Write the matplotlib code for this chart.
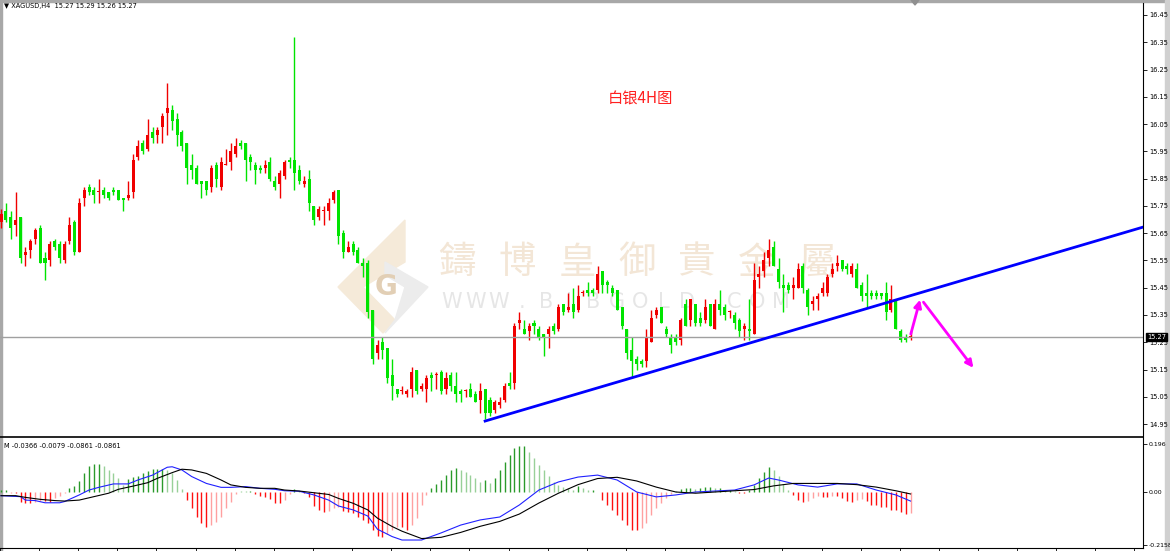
import matplotlib.pyplot as plt
from matplotlib.patches import Polygon, Rectangle
import numpy as np

# ---------------- datos (velas H4 XAGUSD) ----------------
opens = [15.69, 15.73, 15.71, 15.68, 15.71, 15.57, 15.59, 15.63, 15.67, 15.56,
         15.55, 15.62, 15.61, 15.55, 15.62, 15.69, 15.58, 15.78, 15.82, 15.81,
         15.80, 15.81, 15.80, 15.81, 15.81, 15.78, 15.78, 15.80, 15.93, 15.98,
         15.96, 16.02, 16.01, 16.04, 16.09, 16.10, 16.07, 16.02, 15.98, 15.90,
         15.89, 15.84, 15.84, 15.82, 15.90, 15.82, 15.90, 15.91, 15.94, 15.98,
         15.98, 15.93, 15.90, 15.89, 15.89, 15.91, 15.84, 15.83, 15.86, 15.92,
         15.92, 15.88, 15.83, 15.85, 15.75, 15.71, 15.73, 15.73, 15.77, 15.81,
         15.65, 15.58, 15.61, 15.59, 15.54, 15.54, 15.37, 15.21, 15.25, 15.23,
         15.13, 15.08, 15.07, 15.06, 15.08, 15.15, 15.08, 15.08, 15.13, 15.13,
         15.14, 15.08, 15.13, 15.09, 15.07, 15.07, 15.08, 15.06, 15.04, 15.08,
         15.04, 15.00, 15.02, 15.04, 15.10, 15.10, 15.32, 15.30, 15.29, 15.32,
         15.30, 15.28, 15.28, 15.31, 15.30, 15.39, 15.37, 15.39, 15.37, 15.43,
         15.44, 15.44, 15.44, 15.51, 15.47, 15.45, 15.44, 15.38, 15.30, 15.22,
         15.19, 15.18, 15.18, 15.25, 15.35, 15.38, 15.30, 15.27, 15.27, 15.26,
         15.39, 15.33, 15.39, 15.34, 15.33, 15.39, 15.30, 15.39, 15.38, 15.36,
         15.35, 15.33, 15.30, 15.30, 15.28, 15.49, 15.51, 15.56, 15.60, 15.52,
         15.46, 15.46, 15.45, 15.45, 15.53, 15.44, 15.39, 15.41, 15.43, 15.43,
         15.50, 15.53, 15.55, 15.53, 15.50, 15.52, 15.46, 15.43, 15.43, 15.43,
         15.43, 15.43, 15.37, 15.40, 15.29, 15.27, 15.27]
highs = [15.74, 15.76, 15.73, 15.80, 15.71, 15.60, 15.63, 15.67, 15.68, 15.58,
         15.62, 15.63, 15.62, 15.62, 15.71, 15.70, 15.78, 15.82, 15.83, 15.82,
         15.85, 15.82, 15.80, 15.82, 15.81, 15.78, 15.84, 15.94, 15.99, 15.99,
         16.07, 16.04, 16.04, 16.09, 16.20, 16.12, 16.09, 16.03, 15.98, 15.94,
         15.90, 15.84, 15.84, 15.90, 15.91, 15.93, 15.96, 15.98, 16.00, 15.99,
         15.98, 15.94, 15.91, 15.90, 15.92, 15.93, 15.86, 15.88, 15.92, 15.93,
         16.37, 15.90, 15.86, 15.88, 15.75, 15.75, 15.75, 15.78, 15.81, 15.81,
         15.66, 15.62, 15.62, 15.60, 15.56, 15.55, 15.37, 15.26, 15.27, 15.23,
         15.19, 15.08, 15.09, 15.08, 15.16, 15.15, 15.10, 15.13, 15.14, 15.14,
         15.15, 15.14, 15.14, 15.14, 15.08, 15.08, 15.10, 15.07, 15.10, 15.08,
         15.05, 15.04, 15.05, 15.10, 15.14, 15.32, 15.36, 15.33, 15.32, 15.33,
         15.31, 15.28, 15.31, 15.32, 15.39, 15.39, 15.43, 15.45, 15.46, 15.44,
         15.47, 15.45, 15.53, 15.51, 15.48, 15.46, 15.44, 15.38, 15.30, 15.27,
         15.20, 15.19, 15.30, 15.37, 15.38, 15.38, 15.31, 15.28, 15.28, 15.34,
         15.41, 15.41, 15.39, 15.36, 15.41, 15.39, 15.41, 15.44, 15.39, 15.37,
         15.36, 15.34, 15.32, 15.41, 15.54, 15.53, 15.58, 15.63, 15.62, 15.56,
         15.50, 15.47, 15.49, 15.54, 15.54, 15.45, 15.42, 15.43, 15.47, 15.50,
         15.54, 15.57, 15.55, 15.54, 15.54, 15.54, 15.47, 15.50, 15.44, 15.44,
         15.43, 15.47, 15.46, 15.41, 15.30, 15.28, 15.29]
lows = [15.67, 15.69, 15.63, 15.64, 15.54, 15.53, 15.56, 15.61, 15.54, 15.48,
        15.53, 15.59, 15.54, 15.54, 15.61, 15.57, 15.58, 15.75, 15.79, 15.76,
        15.76, 15.78, 15.77, 15.79, 15.77, 15.73, 15.77, 15.78, 15.92, 15.94,
        15.95, 15.98, 15.98, 15.98, 16.01, 16.03, 15.97, 15.95, 15.83, 15.85,
        15.83, 15.78, 15.79, 15.80, 15.82, 15.81, 15.90, 15.88, 15.93, 15.96,
        15.84, 15.88, 15.83, 15.87, 15.87, 15.84, 15.81, 15.78, 15.85, 15.89,
        15.81, 15.83, 15.82, 15.73, 15.68, 15.70, 15.68, 15.70, 15.76, 15.61,
        15.56, 15.58, 15.57, 15.54, 15.49, 15.34, 15.17, 15.19, 15.19, 15.10,
        15.04, 15.05, 15.06, 15.05, 15.05, 15.06, 15.07, 15.03, 15.07, 15.08,
        15.06, 15.06, 15.07, 15.03, 15.03, 15.05, 15.05, 15.03, 14.99, 14.97,
        14.98, 14.99, 15.01, 15.03, 15.08, 15.08, 15.30, 15.28, 15.26, 15.28,
        15.26, 15.20, 15.23, 15.28, 15.29, 15.35, 15.36, 15.34, 15.36, 15.42,
        15.42, 15.42, 15.43, 15.43, 15.43, 15.42, 15.37, 15.30, 15.19, 15.12,
        15.15, 15.16, 15.16, 15.25, 15.34, 15.32, 15.27, 15.21, 15.24, 15.24,
        15.31, 15.31, 15.31, 15.31, 15.32, 15.31, 15.30, 15.35, 15.33, 15.34,
        15.30, 15.27, 15.26, 15.26, 15.28, 15.45, 15.49, 15.53, 15.53, 15.45,
        15.36, 15.43, 15.41, 15.45, 15.43, 15.35, 15.37, 15.37, 15.42, 15.42,
        15.49, 15.51, 15.51, 15.50, 15.49, 15.45, 15.40, 15.38, 15.41, 15.41,
        15.41, 15.33, 15.36, 15.30, 15.25, 15.25, 15.26]
closes = [15.72, 15.70, 15.67, 15.70, 15.56, 15.58, 15.62, 15.66, 15.54, 15.54,
          15.61, 15.60, 15.56, 15.61, 15.68, 15.58, 15.76, 15.81, 15.80, 15.79,
          15.80, 15.79, 15.78, 15.80, 15.77, 15.77, 15.79, 15.92, 15.97, 15.95,
          16.01, 16.00, 16.03, 16.08, 16.11, 16.06, 16.01, 15.97, 15.89, 15.88,
          15.83, 15.83, 15.81, 15.89, 15.85, 15.91, 15.90, 15.95, 15.97, 15.97,
          15.92, 15.91, 15.88, 15.88, 15.90, 15.85, 15.82, 15.87, 15.91, 15.91,
          15.87, 15.84, 15.84, 15.76, 15.70, 15.74, 15.73, 15.76, 15.80, 15.64,
          15.58, 15.60, 15.58, 15.54, 15.53, 15.36, 15.19, 15.24, 15.22, 15.12,
          15.09, 15.06, 15.07, 15.07, 15.14, 15.07, 15.09, 15.12, 15.12, 15.13,
          15.07, 15.12, 15.09, 15.06, 15.06, 15.07, 15.05, 15.03, 15.07, 14.99,
          14.99, 15.03, 15.03, 15.09, 15.09, 15.31, 15.33, 15.28, 15.31, 15.31,
          15.27, 15.27, 15.30, 15.29, 15.38, 15.36, 15.38, 15.36, 15.42, 15.43,
          15.43, 15.43, 15.50, 15.46, 15.46, 15.43, 15.37, 15.31, 15.21, 15.18,
          15.17, 15.17, 15.27, 15.34, 15.37, 15.32, 15.28, 15.24, 15.25, 15.33,
          15.31, 15.41, 15.32, 15.32, 15.38, 15.31, 15.39, 15.37, 15.35, 15.36,
          15.32, 15.29, 15.31, 15.29, 15.48, 15.50, 15.55, 15.59, 15.53, 15.47,
          15.45, 15.44, 15.46, 15.52, 15.45, 15.38, 15.40, 15.42, 15.45, 15.49,
          15.52, 15.54, 15.52, 15.52, 15.53, 15.45, 15.42, 15.42, 15.42, 15.42,
          15.42, 15.36, 15.41, 15.30, 15.26, 15.26, 15.27]

macd_hist = [0.008, 0.008, -0.003, -0.005, -0.039, -0.044, -0.044, -0.039, -0.035, -0.035,
             -0.039, -0.026, -0.016, -0.005, 0.015, 0.024, 0.046, 0.076, 0.106, 0.113,
             0.114, 0.106, 0.090, 0.079, 0.056, 0.029, 0.052, 0.063, 0.065, 0.076,
             0.087, 0.093, 0.093, 0.093, 0.090, 0.076, 0.049, 0.011, -0.033, -0.067,
             -0.103, -0.128, -0.141, -0.135, -0.121, -0.101, -0.067, -0.039, -0.008, 0.005,
             0.004, 0.004, -0.010, -0.016, -0.019, -0.029, -0.044, -0.044, -0.033, -0.008,
             0.011, 0.005, -0.005, -0.019, -0.057, -0.073, -0.080, -0.076, -0.067, -0.063,
             -0.076, -0.080, -0.087, -0.101, -0.114, -0.128, -0.155, -0.180, -0.182, -0.171,
             -0.155, -0.141, -0.143, -0.155, -0.135, -0.106, -0.053, -0.012, 0.016, 0.033,
             0.049, 0.069, 0.090, 0.098, 0.090, 0.082, 0.069, 0.057, 0.041, 0.049,
             0.037, 0.057, 0.090, 0.122, 0.151, 0.180, 0.188, 0.188, 0.163, 0.139,
             0.110, 0.090, 0.065, 0.041, 0.029, 0.020, 0.016, 0.008, 0.024, 0.016,
             0.008, 0.008, 0.000, -0.033, -0.053, -0.073, -0.094, -0.114, -0.135, -0.155,
             -0.155, -0.147, -0.127, -0.094, -0.065, -0.045, -0.024, -0.008, 0.004, 0.012,
             0.016, 0.016, 0.012, 0.016, 0.020, 0.020, 0.016, 0.016, 0.008, 0.008,
             0.004, -0.004, -0.004, 0.008, 0.029, 0.057, 0.082, 0.102, 0.090, 0.065,
             0.033, 0.008, -0.012, -0.033, -0.041, -0.037, -0.024, -0.016, -0.020, -0.020,
             -0.016, -0.016, -0.024, -0.037, -0.041, -0.033, -0.029, -0.037, -0.053, -0.053,
             -0.061, -0.061, -0.073, -0.073, -0.082, -0.090, -0.086]

blue_at = [1, 5, 6, 8, 10, 13, 14, 17, 19, 21, 24, 27, 29, 32, 35, 36, 38, 40, 43, 46,
           48, 51, 54, 57, 59, 62, 65, 68, 70, 73, 76, 78, 81, 83, 87, 91, 95, 99, 103, 107,
           111, 115, 119, 123, 127, 131, 135, 139, 143, 151, 155, 158, 160, 164, 168, 172,
           176, 180, 184, 187]
blue_val = [-0.015, -0.019, -0.033, -0.035, -0.044, -0.044, -0.039, -0.012, 0.008, 0.019,
            0.033, 0.033, 0.049, 0.069, 0.101, 0.103, 0.090, 0.063, 0.035, 0.019,
            0.019, 0.022, 0.015, 0.011, 0.005, 0.003, -0.012, -0.033, -0.057, -0.073,
            -0.098, -0.152, -0.182, -0.196, -0.196, -0.167, -0.135, -0.114, -0.102, -0.053,
            0.008, 0.041, 0.061, 0.069, 0.049, 0.000, -0.020, -0.012, 0.000, 0.008,
            0.029, 0.057, 0.049, 0.029, 0.020, 0.033, 0.033, 0.008, -0.012, -0.037]
black_at = [1, 4, 6, 9, 12, 14, 17, 20, 23, 25, 28, 31, 33, 36, 38, 40, 43, 46, 48, 51,
            54, 57, 59, 62, 65, 68, 70, 73, 76, 78, 81, 83, 87, 91, 95, 99, 103, 107, 111,
            115, 119, 123, 127, 131, 135, 139, 143, 151, 155, 159, 163, 168, 172, 176, 180,
            184, 187]
black_val = [-0.015, -0.015, -0.022, -0.030, -0.035, -0.037, -0.033, -0.019, -0.005, 0.011,
             0.024, 0.038, 0.056, 0.079, 0.093, 0.090, 0.076, 0.049, 0.029, 0.019,
             0.015, 0.015, 0.008, 0.004, -0.003, -0.010, -0.026, -0.046, -0.073, -0.107,
             -0.141, -0.160, -0.190, -0.185, -0.165, -0.140, -0.120, -0.090, -0.045,
             -0.005, 0.030, 0.055, 0.060, 0.045, 0.020, 0.000, -0.005, 0.005, 0.010,
             0.025, 0.035, 0.035, 0.035, 0.030, 0.020, 0.005, -0.008]

price_ticks = [14.95, 15.05, 15.15, 15.25, 15.35, 15.45, 15.55, 15.65, 15.75, 15.85,
               15.95, 16.05, 16.15, 16.25, 16.35, 16.45]
last_price = 15.27
trend_from = (100, 14.961)      # vela, precio
trend_slope = 0.005286          # por vela
arrow_up = [(186.9, 15.27), (189.1, 15.416)]
arrow_down = [(189.3, 15.405), (200.2, 15.148)]

# ---------------- figura ----------------
W, H = 1170, 551
UP, DOWN = '#f00000', '#00e400'

fig = plt.figure(figsize=(W / 100, H / 100), dpi=100)
bg = fig.add_axes([0, 0, 1, 1], zorder=0)
bg.set_xlim(0, W)
bg.set_ylim(H, 0)
bg.axis('off')

# marco de la ventana
bg.add_patch(Rectangle((0, 0), W, 2, color='#a8a8a8'))
bg.add_patch(Rectangle((0, 0), 2, H, color='#a8a8a8'))
bg.add_patch(Rectangle((1165, 0), 5, H, color='#d0d0d0'))
bg.add_patch(Polygon([(911, 0), (919, 0), (915, 5)], color='#909090'))

# marca de agua
wm_chars = '鑄博皇御貴金屬'
for k, ch in enumerate(wm_chars):
    bg.text(457 + k * 60, 263, ch, fontsize=27, color='#f3e6d6', ha='center', va='center',
            family=['Noto Sans CJK TC', 'DejaVu Sans'])
for k, ch in enumerate('WWW.BIBGOLD.COM'):
    bg.text(452 + k * 23.5, 302, ch, fontsize=15, color='#e6e6e6', ha='center', va='center',
            family='DejaVu Sans')
bg.add_patch(Polygon([(405, 220), (405, 262), (363, 287), (395, 320), (383, 333), (338, 287)],
                     color='#f5ead9'))
bg.add_patch(Polygon([(385, 262), (428, 287), (385, 333), (395, 320), (405, 287), (385, 275)],
                     color='#ececec'))
bg.text(386, 287, 'G', fontsize=20, fontweight='bold', color='#e2cfb5', ha='center', va='center')

bg.text(4, 6, '▼ XAGUSD,H4  15.27 15.29 15.26 15.27', fontsize=4.8, va='center')
bg.text(4, 446, 'M -0.0366 -0.0079 -0.0861 -0.0861', fontsize=4.8, va='center')

# panel de precio
ax = fig.add_axes([0, (H - 437) / H, 1143 / W, 434 / H], zorder=1)
ax.patch.set_alpha(0)
idx = np.arange(1, len(closes) + 1)
o, h, l, c = map(np.array, (opens, highs, lows, closes))
col = np.where(c >= o, UP, DOWN)
ax.vlines(idx, l, h, colors=col, lw=1)
body = np.maximum(np.abs(c - o), 0.004)
ax.bar(idx, body, bottom=np.minimum(o, c), width=0.62, color=col, linewidth=0)

ax.axhline(last_price, color='#a0a0a0', lw=1)
tx = np.array([trend_from[0], 240])
ax.plot(tx, trend_from[1] + trend_slope * (tx - trend_from[0]), color='#0000ff', lw=2)
for a in (arrow_up, arrow_down):
    ax.annotate('', xy=a[1], xytext=a[0],
                arrowprops=dict(arrowstyle='-|>', color='#ff00ff', lw=2, mutation_scale=11))
ax.text(131.7, 16.142, '白银4H图', color='#ff2020', fontsize=11, ha='center', va='center',
        family=['Noto Sans CJK SC', 'DejaVu Sans'])

x0 = 1 - 1 / 4.89
ax.set_xlim(x0, x0 + 1143 / 4.89)
ax.set_ylim(16.505 - 437 / 272.7, 16.505 - 3 / 272.7)
ax.yaxis.tick_right()
ax.set_yticks(price_ticks)
ax.set_yticklabels([f'{p:.2f}' for p in price_ticks])
ax.tick_params(axis='y', labelsize=4.8, length=3, width=0.6, pad=1.5)
ax.set_xticks([])
for s in ('top', 'left'):
    ax.spines[s].set_visible(False)
ax.spines['right'].set_linewidth(0.8)
ax.spines['bottom'].set_linewidth(1.2)
ax.text(1.0035, last_price, '15.27', transform=ax.get_yaxis_transform(), fontsize=4.8,
        color='white', va='center', ha='left',
        bbox=dict(boxstyle='square,pad=0.15', fc='black', ec='black'))

# panel MACD
ax2 = fig.add_axes([0, (H - 548) / H, 1143 / W, 110 / H], zorder=1)
ax2.patch.set_alpha(0)
hv = np.array(macd_hist)
prev = np.concatenate([[0], hv[:-1]])
grow = np.abs(hv) >= np.abs(prev)
hcol = np.where(hv >= 0, np.where(grow, '#2a9a2a', '#98d098'),
                np.where(grow, '#ff1010', '#ffa0a0'))
ax2.vlines(idx, 0, hv, colors=hcol, lw=1)
ax2.plot(blue_at, blue_val, color='#2020ff', lw=0.8)
ax2.plot(black_at, black_val, color='black', lw=0.8)
ax2.set_xlim(ax.get_xlim())
ax2.set_ylim(-(548 - 492) / 245, (492 - 438) / 245)
ax2.yaxis.tick_right()
ax2.set_yticks([0.196, 0.0, -0.2158])
ax2.set_yticklabels(['0.196', '0.00', '-0.2158'])
ax2.tick_params(axis='y', labelsize=4.5, length=3, width=0.6, pad=1)
ax2.set_xticks(np.arange(x0, 234, 8))
ax2.set_xticklabels([])
ax2.tick_params(axis='x', length=3, width=0.6)
ax2.spines['top'].set_visible(False)
ax2.spines['left'].set_visible(False)

fig.savefig('out.png', dpi=100)
